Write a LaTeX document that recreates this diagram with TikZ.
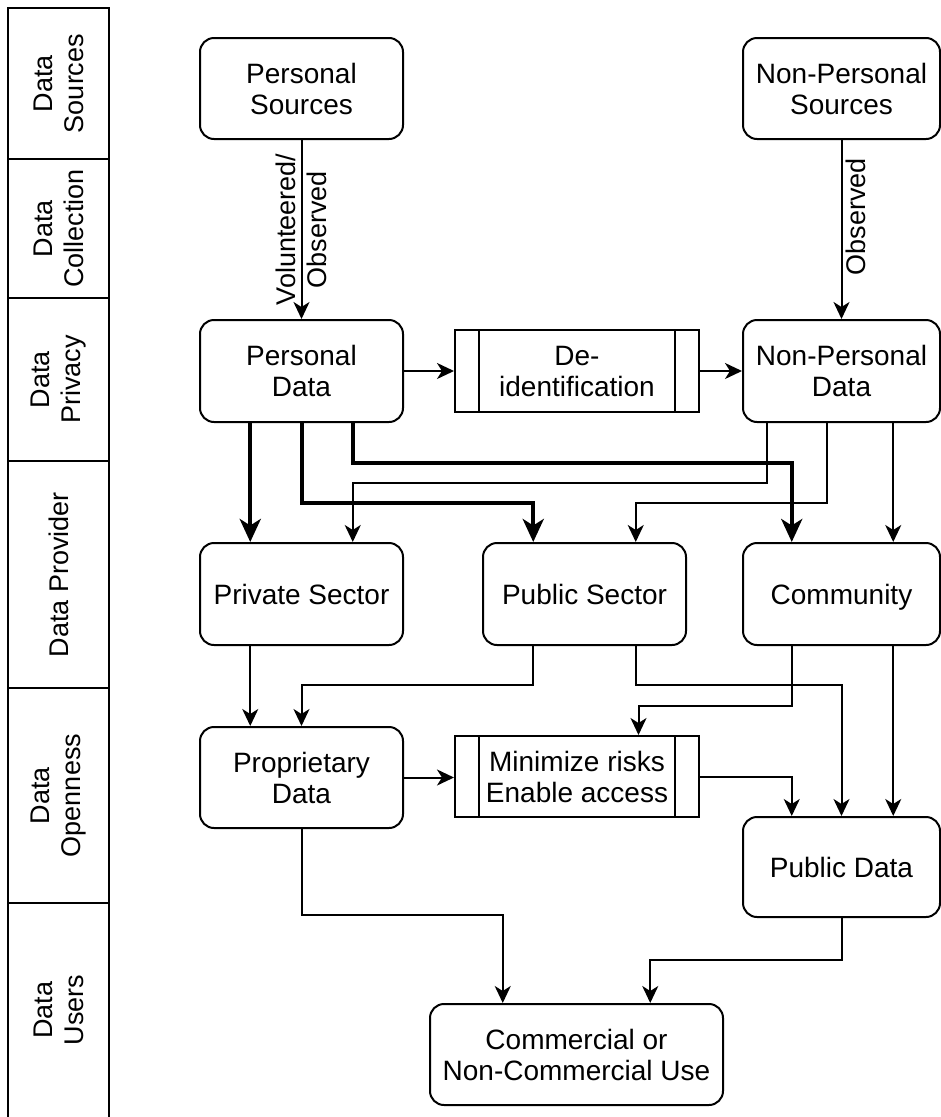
\documentclass[tikz,border=0pt]{standalone}
\usepackage{fontspec}
\setmainfont{Liberation Sans}
\usetikzlibrary{arrows.meta,calc}
\begin{document}
\begin{tikzpicture}[x=1pt,y=-1pt,
  box/.style={draw, line width=2pt, rounded corners=14pt, align=center,
    font=\fontsize{28}{31}\selectfont, inner sep=0pt},
  oneline/.style={text height=20pt, text depth=0pt},
  procbox/.style={draw, line width=2pt, align=center,
    font=\fontsize{28}{31}\selectfont, inner sep=0pt},
  conn/.style={line width=2pt, -{Stealth[length=17pt,width=16pt,inset=5pt]}},
  thickconn/.style={line width=4pt, -{Stealth[length=23pt,width=21pt,inset=6.5pt]}},
  lanelbl/.style={rotate=90, align=center, font=\fontsize{27}{31}\selectfont},
  edgelbl/.style={rotate=90, align=center, font=\fontsize{27}{31}\selectfont},
  lane/.style={line width=2pt}
]
\useasboundingbox (0,0) rectangle (941,1117);

% lanes
\draw[lane] (8,1117) -- (8,8) -- (109,8) -- (109,1117);
\foreach \yy in {159,298,461,688,903} \draw[lane] (8,\yy) -- (109,\yy);
\node[lanelbl] (l1) at (58.5,83.5) {Data\\Sources};
\node[lanelbl] (l2) at (58.5,228.5) {Data\\Collection};
\node[lanelbl] (l3) at (58.5,379.5) {Data\\Privacy};
\node[lanelbl] (l4) at (58.5,574.5) {Data Provider};
\node[lanelbl] (l5) at (58.5,795.5) {Data\\Openness};
\node[lanelbl] (l6) at (58.5,1010) {Data\\Users};

% nodes
\node[box, minimum width=203pt, minimum height=101pt] (ps) at (301.5,88.5) {Personal\\Sources};
\node[box, minimum width=197pt, minimum height=101pt] (nps) at (841.5,88.5) {Non-Personal\\Sources};
\node[box, minimum width=203pt, minimum height=102pt] (pd) at (301.5,371) {Personal\\Data};
\node[procbox, minimum width=244pt, minimum height=82pt] (deid) at (577,371) {De-\\identification};
\node[box, minimum width=197pt, minimum height=102pt] (npd) at (841.5,371) {Non-Personal\\Data};
\node[box, oneline, minimum width=203pt, minimum height=102pt] (priv) at (301.5,594) {Private Sector};
\node[box, oneline, minimum width=203pt, minimum height=102pt] (pub) at (584.5,594) {Public Sector};
\node[box, oneline, minimum width=197pt, minimum height=102pt] (comm) at (841.5,594) {Community};
\node[box, minimum width=203pt, minimum height=101pt] (prop) at (301.5,777.5) {Proprietary\\Data};
\node[procbox, minimum width=244pt, minimum height=81pt] (mini) at (577,776.5) {Minimize risks\\Enable access};
\node[box, oneline, minimum width=197pt, minimum height=100pt] (pubd) at (841.5,867) {Public Data};
\node[box, minimum width=293pt, minimum height=101pt] (com) at (576.5,1054.5) {Commercial or\\Non-Commercial Use};

% process inner lines
\draw[line width=2pt] ($(deid.north west)+(25,0)$) -- ($(deid.south west)+(25,0)$);
\draw[line width=2pt] ($(deid.north east)+(-25,0)$) -- ($(deid.south east)+(-25,0)$);
\draw[line width=2pt] ($(mini.north west)+(25,0)$) -- ($(mini.south west)+(25,0)$);
\draw[line width=2pt] ($(mini.north east)+(-25,0)$) -- ($(mini.south east)+(-25,0)$);

% collection
\draw[conn] (ps) -- node[edgelbl, midway]{Volunteered/\\Observed} (pd);
\draw[conn] (nps) -- node[edgelbl, pos=0.43, anchor=north]{Observed} (npd);

% privacy
\draw[conn] (pd.east) -- (pd.east -| deid.west);
\draw[conn] (deid.east) -- (deid.east -| npd.west);

% thick personal data flows
\draw[thickconn] ($(pd.south west)!.25!(pd.south east)$) -- ($(priv.north west)!.25!(priv.north east)$);
\draw[thickconn] ($(pd.south west)!.5!(pd.south east)$) coordinate (t1) -- (t1 |- 0,503) -| ($(pub.north west)!.25!(pub.north east)$);
\draw[thickconn] ($(pd.south west)!.75!(pd.south east)$) coordinate (t2) -- (t2 |- 0,463) -| ($(comm.north west)!.25!(comm.north east)$);

% non-personal data flows
\draw[conn] ($(npd.south west)!.125!(npd.south east)$) coordinate (n1) -- (n1 |- 0,483) -| ($(priv.north west)!.75!(priv.north east)$);
\draw[conn] ($(npd.south west)!.425!(npd.south east)$) coordinate (n2) -- (n2 |- 0,503) -| ($(pub.north west)!.75!(pub.north east)$);
\draw[conn] ($(npd.south west)!.76!(npd.south east)$) -- ($(comm.north west)!.76!(comm.north east)$);

% provider to openness
\draw[conn] ($(priv.south west)!.25!(priv.south east)$) -- ($(prop.north west)!.25!(prop.north east)$);
\draw[conn] ($(pub.south west)!.25!(pub.south east)$) coordinate (p1) -- (p1 |- 0,685) -| ($(prop.north west)!.5!(prop.north east)$);
\draw[conn] ($(pub.south west)!.75!(pub.south east)$) coordinate (p2) -- (p2 |- 0,685) -| (pubd.north);
\draw[conn] ($(comm.south west)!.25!(comm.south east)$) coordinate (c1) -- (c1 |- 0,706) -| ($(mini.north west)!.75!(mini.north east)$);
\draw[conn] ($(comm.south west)!.76!(comm.south east)$) -- ($(pubd.north west)!.76!(pubd.north east)$);

% openness
\draw[conn] (prop.east) -- (prop.east -| mini.west);
\draw[conn] (mini.east) -| ($(pubd.north west)!.25!(pubd.north east)$);

% users
\draw[conn] ($(prop.south west)!.5!(prop.south east)$) coordinate (q1) -- (q1 |- 0,915) -| ($(com.north west)!.25!(com.north east)$);
\draw[conn] (pubd.south) -- (pubd.south |- 0,960) -| ($(com.north west)!.75!(com.north east)$);
\end{tikzpicture}
\end{document}
